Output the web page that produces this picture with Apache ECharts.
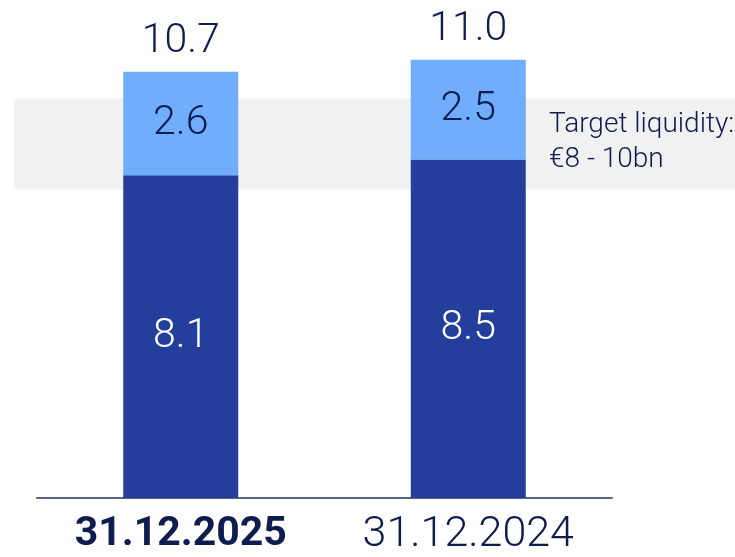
<!DOCTYPE html>
<html>
	<head>
		<meta charset="utf-8">
		<title>Liquidity</title>
		<script src="https://cdn.jsdelivr.net/npm/echarts@6/dist/echarts.min.js"></script>
		<style>
			html, body { margin: 0; padding: 0; background: #fff; }
		</style>
	</head>
	<body>
		<div id="main" style="width: 735px; height: 557px;"></div>
		<script>
			var categories = ['31.12.2025', '31.12.2024'];
			var baseValues = [8.1, 8.5];
			var topValues = [2.6, 2.5];
			var targetBand = [7.75, 10.03];
			var targetText = 'Target liquidity:\n€8 - 10bn';

			var navy = '#0e1c4e';
			var font = 'Roboto';

			var mychart = echarts.init(document.getElementById('main'));
			var option = {
				backgroundColor: '#fff',
				animation: false,
				grid: { left: 37, right: 123, top: 20, bottom: 57 },
				xAxis: {
					type: 'category',
					data: categories,
					axisLine: { lineStyle: { color: '#5b6585', width: 2 } },
					axisTick: { show: false },
					axisLabel: {
						margin: 16,
						formatter: function (v, i) {
							return i === 0 ? '{b|' + v + '}' : '{n|' + v + '}';
						},
						rich: {
							b: { fontFamily: font, fontSize: 41, fontWeight: 'bold', color: navy },
							n: { fontFamily: font, fontSize: 43, fontWeight: 300, color: navy }
						}
					}
				},
				yAxis: { type: 'value', min: 0, max: 12, show: false },
				graphic: [{
					type: 'text',
					z: 100,
					left: 549,
					top: 107,
					style: {
						text: targetText,
						fontFamily: font,
						fontSize: 28,
						lineHeight: 35,
						fontWeight: 300,
						fill: navy
					}
				}],
				series: [{
					type: 'bar',
					stack: 'total',
					barWidth: '40%',
					clip: false,
					data: baseValues,
					itemStyle: { color: '#243f9b' },
					label: {
						show: true,
						position: 'inside',
						fontFamily: font,
						fontSize: 41,
						fontWeight: 300,
						color: '#fff'
					},
					markArea: {
						silent: true,
						itemStyle: { color: '#f1f1f1' },
						data: [[{ yAxis: targetBand[0], x: 14 }, { yAxis: targetBand[1], x: 735 }]]
					}
				}, {
					type: 'bar',
					stack: 'total',
					barWidth: '40%',
					data: topValues,
					itemStyle: { color: '#70adfc' },
					label: {
						show: true,
						position: 'inside',
						fontFamily: font,
						fontSize: 41,
						fontWeight: 300,
						color: navy
					}
				}, {
					// totals above the bars
					type: 'bar',
					stack: 'total',
					barWidth: '40%',
					data: [0, 0],
					itemStyle: { color: 'transparent' },
					label: {
						show: true,
						position: 'top',
						distance: 10,
						fontFamily: font,
						fontSize: 41,
						fontWeight: 300,
						color: navy,
						formatter: function (p) {
							return (baseValues[p.dataIndex] + topValues[p.dataIndex]).toFixed(1);
						}
					}
				}]
			};
			mychart.setOption(option);
		</script>
	</body>
</html>
